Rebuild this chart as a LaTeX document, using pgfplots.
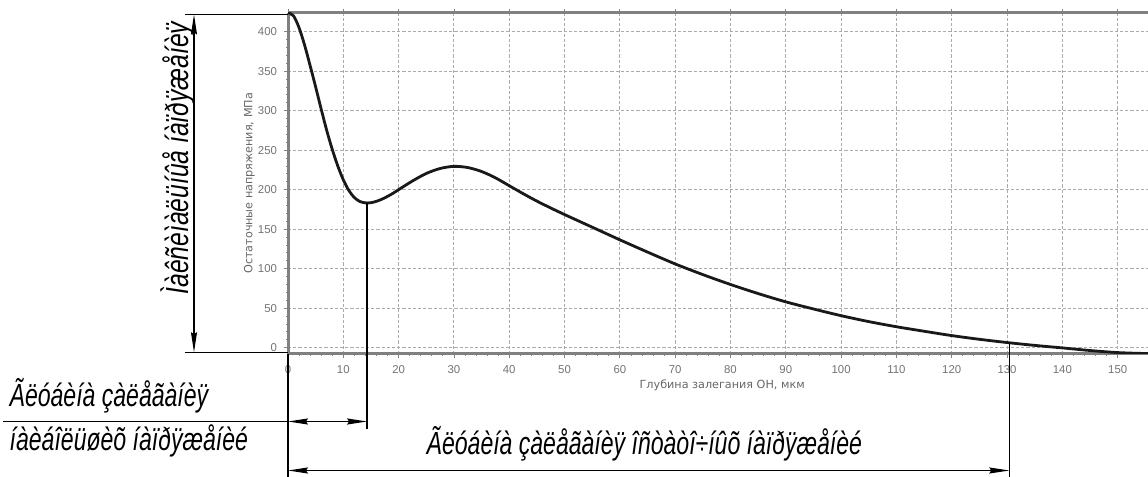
\documentclass[border=0pt]{standalone}
\usepackage{fontspec}
\setmainfont{DejaVu Sans}
\newfontfamily\tickfont{Liberation Sans}
\newfontfamily\annotA[FakeStretch=0.72]{Liberation Sans}
\newfontfamily\annotB[FakeStretch=0.77]{Liberation Sans}
\usepackage{pgfplots}
\pgfplotsset{compat=1.18}
\usetikzlibrary{arrows.meta}
\tikzset{dim/.style={arrows={Stealth[length=10pt,width=3pt,inset=1pt]-Stealth[length=10pt,width=3pt,inset=1pt]}}}
\begin{document}
\begin{tikzpicture}
\begin{axis}[
  scale only axis, width=434.2pt, height=170.65pt,
  at={(144pt,61.5pt)}, anchor=south west,
  xmin=0, xmax=157, ymin=-8, ymax=424,
  xtick={0,10,...,150}, ytick={0,50,...,400},
  minor x tick num=4, minor y tick num=4,
  grid=major,
  major grid style={draw=black!33, dash pattern=on 1.6pt off 1pt, line width=0.5pt},
  separate axis lines,
  axis line style={draw=black!50, line width=1.5pt},
  tick align=outside, major tick length=2pt, minor tick length=1pt,
  tick style={draw=black!50, line width=0.4pt},
  /pgf/number format/assume math mode=true,
  tick label style={font=\tickfont\fontsize{5.7pt}{6pt}\selectfont, text=black!55},
  xlabel={Глубина залегания ОН, мкм},
  ylabel={Остаточные напряжения, МПа},
  label style={font=\fontsize{5.6pt}{6pt}\selectfont, text=black!60},
  xlabel style={at={(axis description cs:0.5,-0.1025)}, anchor=base},
  ylabel style={at={(axis description cs:-0.0409,0.5)}, anchor=base},
]
\addplot[black!90, line width=1.4pt, smooth, tension=0.5] coordinates {
(0,424) (1,420) (2,405) (3,383) (4,357) (5,330) (6,302) (7,275) (8,251) (9,230)
(10,212.5) (11,199) (12,190) (13,185) (14,183.3) (15,183.5) (16,185.3) (17,188)
(18,191.5) (19,195.5) (20,200) (22.5,211) (25,220.5) (27.5,226.8) (30,229.5)
(32.5,228) (35,223) (37.5,215) (40,205) (42.5,195) (45,185.5) (47.5,176.8)
(50,168.5) (52.5,160.5) (55,152.5) (57.5,144.5) (60,136.5) (65,121) (70,106)
(75,92.5) (80,80) (85,68.5) (90,58) (95,49) (100,40.5) (105,33) (110,26.5)
(115,20.8) (120,15.3) (125,10.6) (130,6.5) (135,2.9) (140,-0.3) (145,-3.6)
(150,-6.2) (155,-7.4) (157,-7.5)
};
\coordinate (mn) at (axis cs:14.3,183.3);
\coordinate (pe) at (axis cs:130.4,6.3);
\end{axis}
\begin{scope}[shift={(0pt,238.5pt)}, x=0.5pt, y=-0.5pt, line width=0.7pt]
\coordinate (b429) at (0,429);
\coordinate (b477) at (0,477);
\coordinate (b470) at (0,470.5);
\draw (185,14.5) -- (288,14.5);
\draw (185,352.3) -- (288,352.3);
\draw[dim] (194,14.5) -- (194,352.3);
\draw (3,421.5) -- (288,421.5);
\draw[dim] (288,421.5) -- (mn |- 0,421.5);
\draw (288,354) -- (288,477);
\draw (mn) -- (mn |- b429);
\draw (pe) -- (pe |- b477);
\draw[dim] (288,470.5) -- (pe |- b470);
\node[anchor=base west, inner sep=0] at (9,407) {\annotA\itshape\fontsize{16pt}{18pt}\selectfont Ãëóáèíà çàëåãàíèÿ};
\node[anchor=base west, inner sep=0] at (9,451) {\annotA\itshape\fontsize{16pt}{18pt}\selectfont íàèáîëüøèõ íàïðÿæåíèé};
\node[anchor=base west, inner sep=0] at (426,455) {\annotA\itshape\fontsize{16pt}{18pt}\selectfont Ãëóáèíà çàëåãàíèÿ îñòàòî÷íûõ íàïðÿæåíèé};
\node[anchor=base, rotate=90, inner sep=0] at (188,158) {\annotB\itshape\fontsize{16pt}{18pt}\selectfont Ìàêñèìàëüíûå íàïðÿæåíèÿ};
\end{scope}
\pgfresetboundingbox
\path[use as bounding box] (0,0) rectangle (574pt,238.5pt);
\end{tikzpicture}
\end{document}
